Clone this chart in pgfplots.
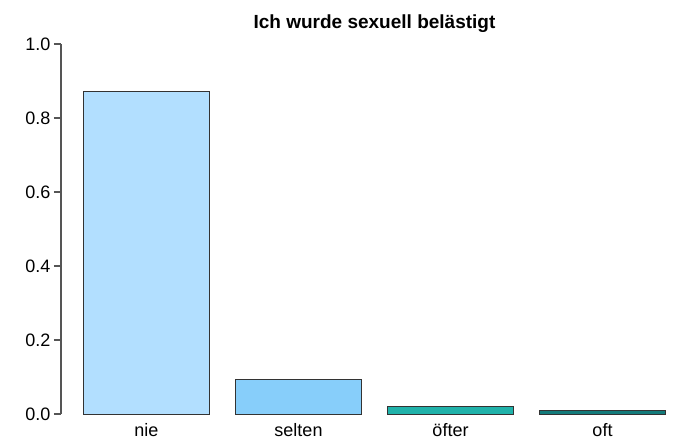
\documentclass[border=0pt]{standalone}
\usepackage{fontspec}
\setmainfont{Liberation Sans}
\usepackage{pgfplots}
\pgfplotsset{compat=1.18}
\definecolor{cnie}{HTML}{B2DFFF}
\definecolor{cselten}{HTML}{87CEFA}
\definecolor{cofter}{HTML}{20B2AA}
\definecolor{coft}{HTML}{137B7B}
\definecolor{axgray}{HTML}{555555}
\begin{document}
\begin{tikzpicture}
\begin{axis}[
  name=ax,
  scale only axis,
  width=612pt, height=370pt,
  xmin=-0.5625, xmax=3.4638,
  ymin=0, ymax=1,
  clip=false,
  axis y line*=left,
  axis x line*=bottom,
  x axis line style={draw=none},
  y axis line style={-, draw=axgray, line width=1.1pt},
  xtick={0,1,2,3},
  xticklabels={nie,selten,öfter,oft},
  xtick style={draw=none},
  xticklabel style={font=\fontsize{18}{20}\selectfont, yshift=1pt},
  ytick={0,0.2,0.4,0.6,0.8,1.0},
  yticklabels={0.0,0.2,0.4,0.6,0.8,1.0},
  ytick style={draw=axgray, line width=1.1pt},
  tick align=outside,
  major tick length=7pt,
  yticklabel style={font=\fontsize{18}{20}\selectfont, xshift=0pt},
  /pgf/number format/assume math mode=true,
]
\addplot[ybar, bar width=0.8333, fill=cnie, draw=black!80, line width=0.8pt] coordinates {(0,0.873)};
\addplot[ybar, bar width=0.8333, fill=cselten, draw=black!80, line width=0.8pt] coordinates {(1,0.0946)};
\addplot[ybar, bar width=0.8333, fill=cofter, draw=black!80, line width=0.8pt] coordinates {(2,0.0198)};
\addplot[ybar, bar width=0.8333, fill=coft, draw=black!80, line width=0.8pt] coordinates {(3,0.010)};
\node[font=\fontsize{19}{21}\selectfont\bfseries] at (axis cs:1.5,1.054) {Ich wurde sexuell belästigt};
\end{axis}
\path (ax.south west) ++(-61pt,-33pt) rectangle ++(673pt,447pt);
\end{tikzpicture}
\end{document}
